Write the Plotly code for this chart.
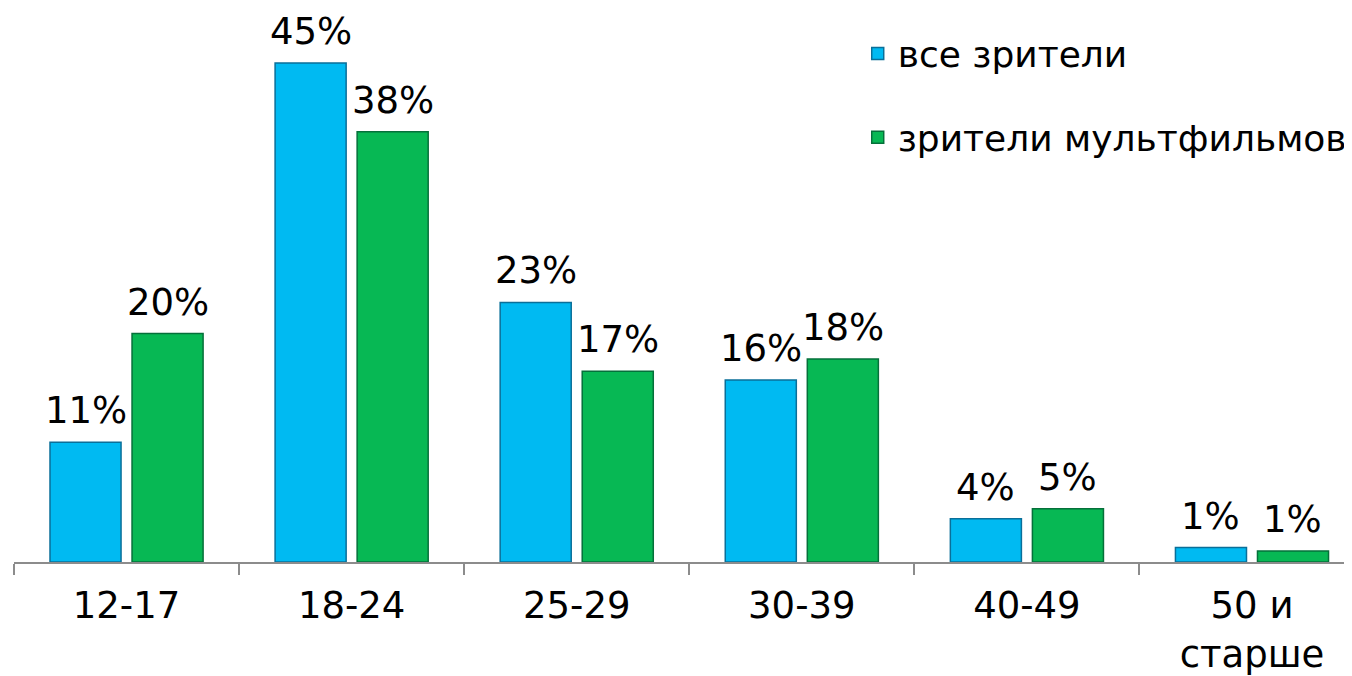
import plotly.graph_objects as go

categories = ["12-17", "18-24", "25-29", "30-39", "40-49", "50 и<br>старше"]
all_viewers = [10.8, 45.0, 23.4, 16.4, 3.9, 1.3]
cartoon_viewers = [20.6, 38.8, 17.2, 18.3, 4.8, 1.0]
all_labels = ["11%", "45%", "23%", "16%", "4%", "1%"]
cartoon_labels = ["20%", "38%", "17%", "18%", "5%", "1%"]

FONT = "DejaVu Sans"

fig = go.Figure()
fig.add_trace(go.Bar(
    x=categories, y=all_viewers, name="все зрители",
    marker=dict(color="#00BAF2", line=dict(color="#0A6F99", width=1.5)),
    legendgroup="a",
))
fig.add_trace(go.Bar(
    x=categories, y=cartoon_viewers, name="зрители мультфильмов",
    marker=dict(color="#07B854", line=dict(color="#05703A", width=1.5)),
    legendgroup="b",
))

# value labels above bars
for series, labels, shift in ((all_viewers, all_labels, -41), (cartoon_viewers, cartoon_labels, 41)):
    for cat, val, lab in zip(categories, series, labels):
        fig.add_annotation(x=cat, y=val, text=lab, showarrow=False,
                           xshift=shift, yshift=8, yanchor="bottom",
                           font=dict(size=37, family=FONT, color="black"))

fig.update_layout(
    width=1344, height=668,
    margin=dict(l=6, r=0, t=0, b=114),
    paper_bgcolor="white", plot_bgcolor="white",
    barmode="group", bargap=0.271, bargroupgap=0.134,
    font=dict(family=FONT, size=37, color="black"),
    showlegend=True,
    legend=dict(x=0.632, y=0.972, xanchor="left", yanchor="top",
                font=dict(size=36, family=FONT), tracegroupgap=34,
                bgcolor="rgba(0,0,0,0)"),
)
fig.update_xaxes(
    type="category", range=[-0.5, 5.431], automargin=False,
    showline=True, linecolor="#8C8C8C", linewidth=2,
    ticks="outside", tickson="boundaries", ticklen=11, tickwidth=2,
    tickcolor="#8C8C8C", tickfont=dict(size=37, family=FONT),
    ticklabelstandoff=10,
)
fig.update_yaxes(range=[0, 49.95], visible=False, showgrid=False,
                 zeroline=False, automargin=False)

fig.write_html("out.html")
